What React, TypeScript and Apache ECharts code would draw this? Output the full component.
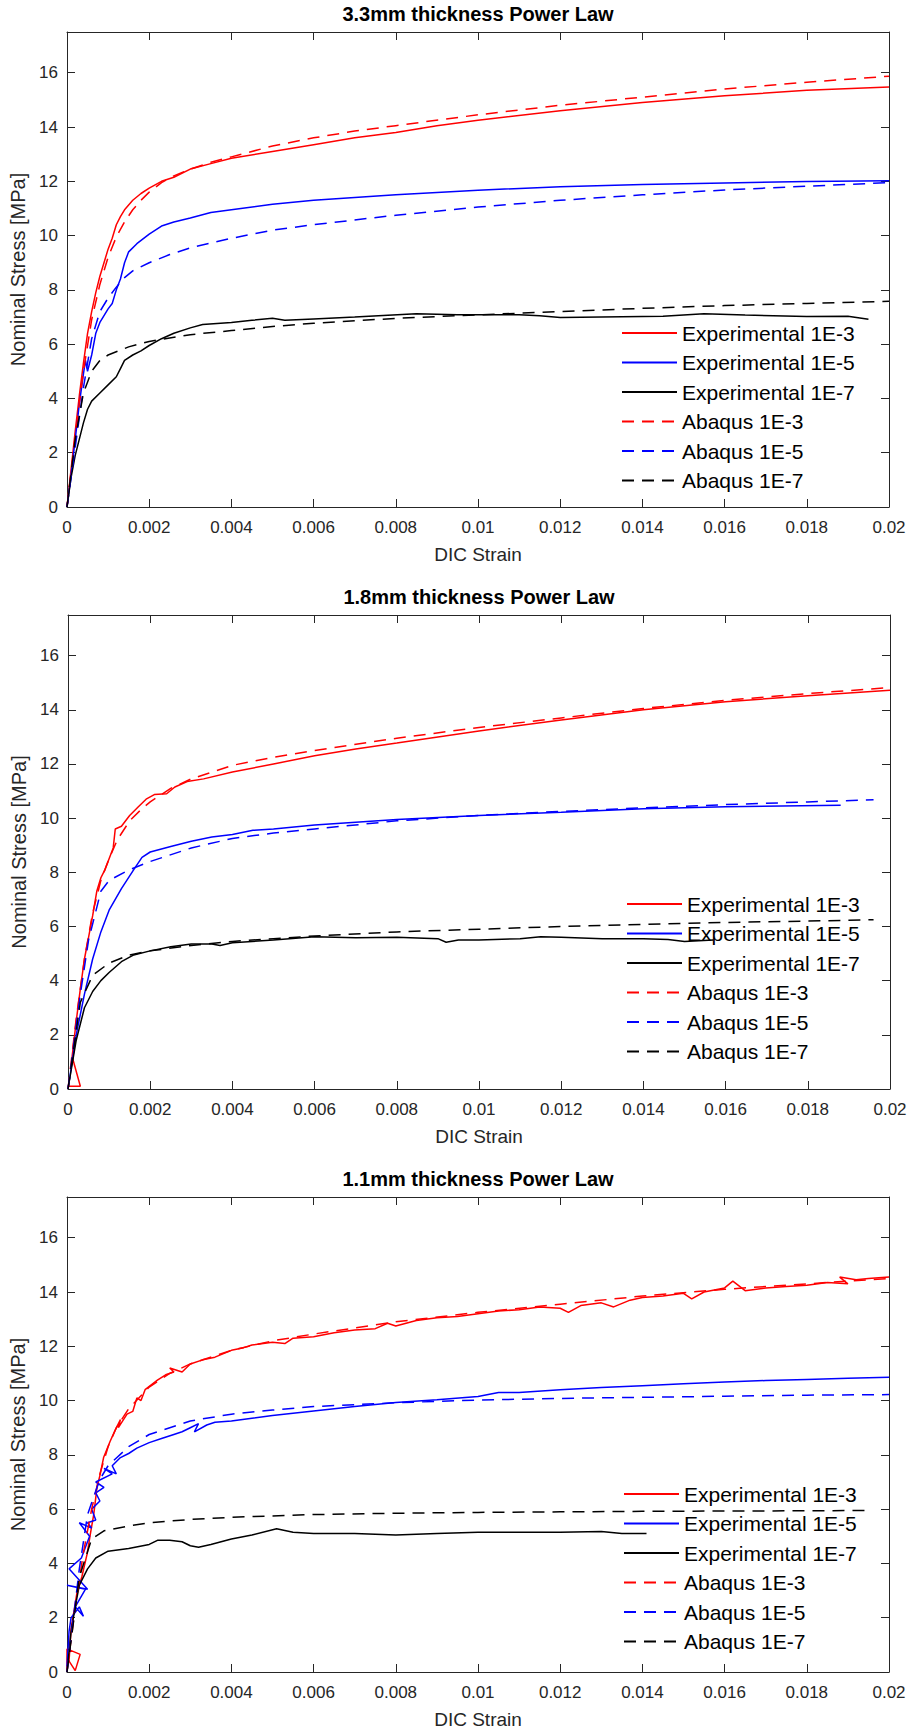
import React, { useEffect, useRef } from 'react';
import * as echarts from 'echarts';

const FONT = '"Liberation Sans", Arial, Helvetica, sans-serif';
const AX = '#262626';

const titles = ['3.3mm thickness Power Law', '1.8mm thickness Power Law', '1.1mm thickness Power Law'];
const xTickLabels = ['0', '0.002', '0.004', '0.006', '0.008', '0.01', '0.012', '0.014', '0.016', '0.018', '0.02'];
const yTickLabels = ['0', '2', '4', '6', '8', '10', '12', '14', '16'];
const seriesNames = ['Experimental 1E-3', 'Experimental 1E-5', 'Experimental 1E-7', 'Abaqus 1E-3', 'Abaqus 1E-5', 'Abaqus 1E-7'];
const seriesColors = ['#ff0000', '#0000ff', '#000000', '#ff0000', '#0000ff', '#000000'];
const seriesDashed = [false, false, false, true, true, true];

// ---------- 3.3 mm ----------
const exp3_33: number[][] = [[0,0],[0.0001,1.4],[0.0002,2.8],[0.0003,4.1],[0.0004,5.3],[0.0005,6.4],[0.0006,7.2],[0.0007,7.9],[0.0008,8.5],[0.0009,9.0],[0.001,9.5],[0.0011,9.9],[0.0012,10.4],[0.0013,10.7],[0.0014,10.95],[0.0016,11.3],[0.0018,11.55],[0.002,11.75],[0.0023,12.0],[0.0026,12.15],[0.003,12.45],[0.0035,12.65],[0.004,12.85],[0.005,13.1],[0.006,13.35],[0.007,13.6],[0.008,13.8],[0.009,14.05],[0.01,14.25],[0.012,14.6],[0.014,14.9],[0.016,15.15],[0.018,15.35],[0.02,15.47]];
const exp5_33: number[][] = [[0,0],[0.0001,1.2],[0.0002,2.5],[0.0003,3.8],[0.0004,4.9],[0.00045,5.4],[0.0005,5.0],[0.0006,5.6],[0.0007,6.4],[0.0008,6.8],[0.001,7.3],[0.0011,7.5],[0.0012,8.0],[0.0013,8.4],[0.0014,9.0],[0.0015,9.4],[0.0017,9.7],[0.002,10.05],[0.0023,10.35],[0.0026,10.5],[0.003,10.65],[0.0035,10.85],[0.004,10.95],[0.005,11.15],[0.006,11.3],[0.008,11.5],[0.01,11.67],[0.012,11.8],[0.014,11.88],[0.016,11.94],[0.018,11.99],[0.02,12.02]];
const exp7_33: number[][] = [[0,0],[0.0001,1.1],[0.0002,1.9],[0.0003,2.5],[0.0004,3.1],[0.0005,3.6],[0.0006,3.9],[0.0008,4.2],[0.001,4.5],[0.0012,4.8],[0.0013,5.1],[0.0014,5.4],[0.0016,5.6],[0.0018,5.75],[0.002,5.95],[0.0023,6.2],[0.0026,6.4],[0.003,6.6],[0.0033,6.72],[0.004,6.8],[0.0045,6.88],[0.005,6.95],[0.0053,6.88],[0.006,6.93],[0.007,7.0],[0.0085,7.12],[0.0095,7.08],[0.011,7.08],[0.0115,7.05],[0.012,6.98],[0.013,7.0],[0.0145,7.03],[0.0155,7.12],[0.0165,7.07],[0.018,7.02],[0.019,7.03],[0.0195,6.92]];
const aba3_33: number[][] = [[0,0],[0.0002,2.6],[0.0004,5.0],[0.0006,6.9],[0.0008,8.2],[0.001,9.2],[0.0012,9.95],[0.0014,10.5],[0.0016,10.95],[0.0018,11.3],[0.002,11.6],[0.0023,11.95],[0.0026,12.2],[0.003,12.45],[0.0035,12.7],[0.004,12.9],[0.005,13.3],[0.006,13.6],[0.007,13.85],[0.008,14.05],[0.01,14.45],[0.012,14.8],[0.014,15.1],[0.016,15.4],[0.018,15.65],[0.02,15.87]];
const aba5_33: number[][] = [[0,0],[0.0002,2.2],[0.0004,4.4],[0.0006,6.2],[0.0008,7.2],[0.001,7.7],[0.0012,8.1],[0.0014,8.45],[0.0016,8.7],[0.002,9.0],[0.0025,9.3],[0.003,9.55],[0.004,9.9],[0.005,10.2],[0.006,10.4],[0.008,10.75],[0.01,11.05],[0.012,11.3],[0.014,11.5],[0.016,11.68],[0.018,11.82],[0.02,11.95]];
const aba7_33: number[][] = [[0,0],[0.0002,2.5],[0.0004,4.2],[0.0006,5.0],[0.0008,5.4],[0.001,5.6],[0.0015,5.9],[0.002,6.1],[0.003,6.35],[0.004,6.5],[0.005,6.65],[0.006,6.77],[0.008,6.95],[0.01,7.08],[0.012,7.2],[0.014,7.32],[0.016,7.42],[0.018,7.5],[0.02,7.58]];

// ---------- 1.8 mm ----------
const exp3_18: number[][] = [[0,0.1],[0.0003,0.1],[0.0001,1.2],[0.0002,2.5],[0.0003,3.7],[0.0004,4.8],[0.0005,5.6],[0.0006,6.4],[0.0007,7.3],[0.0008,7.8],[0.0009,8.1],[0.001,8.5],[0.0011,8.9],[0.00115,9.6],[0.0013,9.7],[0.0015,10.1],[0.0017,10.4],[0.0019,10.7],[0.0021,10.87],[0.0024,10.9],[0.0026,11.15],[0.0029,11.35],[0.0033,11.45],[0.004,11.7],[0.005,12.0],[0.006,12.3],[0.007,12.55],[0.008,12.77],[0.009,13.0],[0.01,13.22],[0.012,13.62],[0.014,14.0],[0.016,14.3],[0.018,14.52],[0.02,14.72]];
const exp5_18: number[][] = [[0,0],[0.0002,2.0],[0.0004,3.5],[0.0006,4.8],[0.0008,5.8],[0.001,6.6],[0.0013,7.4],[0.0016,8.1],[0.0018,8.55],[0.002,8.75],[0.0025,8.95],[0.003,9.15],[0.0035,9.3],[0.004,9.4],[0.0045,9.55],[0.005,9.6],[0.006,9.75],[0.008,9.95],[0.01,10.1],[0.012,10.22],[0.014,10.35],[0.016,10.42],[0.0188,10.48]];
const exp7_18: number[][] = [[0,0],[0.0002,1.8],[0.0004,3.0],[0.0006,3.6],[0.0008,4.0],[0.001,4.3],[0.0013,4.7],[0.0016,4.95],[0.002,5.1],[0.0025,5.25],[0.003,5.35],[0.0035,5.35],[0.0037,5.3],[0.004,5.4],[0.005,5.5],[0.006,5.62],[0.007,5.58],[0.008,5.6],[0.009,5.55],[0.0092,5.42],[0.0095,5.5],[0.01,5.5],[0.011,5.55],[0.0115,5.62],[0.012,5.6],[0.013,5.55],[0.014,5.55],[0.0146,5.52],[0.015,5.45],[0.0157,5.5]];
const aba3_18: number[][] = [[0,0],[0.0002,2.6],[0.0004,4.8],[0.0006,6.5],[0.0008,7.7],[0.001,8.5],[0.0012,9.2],[0.0015,9.9],[0.0018,10.35],[0.002,10.6],[0.0025,11.1],[0.003,11.45],[0.004,11.95],[0.005,12.25],[0.006,12.5],[0.008,12.95],[0.01,13.35],[0.012,13.7],[0.014,14.05],[0.016,14.35],[0.018,14.6],[0.02,14.82]];
const aba5_18: number[][] = [[0,0],[0.0003,3.5],[0.0005,5.5],[0.0008,7.3],[0.001,7.7],[0.0015,8.1],[0.002,8.4],[0.003,8.9],[0.004,9.25],[0.005,9.45],[0.006,9.6],[0.008,9.9],[0.01,10.1],[0.012,10.25],[0.014,10.38],[0.016,10.5],[0.018,10.6],[0.0196,10.68]];
const aba7_18: number[][] = [[0,0],[0.0003,3.2],[0.0006,4.2],[0.001,4.65],[0.0015,4.95],[0.002,5.1],[0.003,5.3],[0.004,5.45],[0.005,5.55],[0.006,5.65],[0.008,5.8],[0.01,5.9],[0.012,6.0],[0.014,6.08],[0.016,6.15],[0.018,6.2],[0.0196,6.25]];

// ---------- 1.1 mm ----------
const exp3_11: number[][] = [[0,0],[0,0.85],[0.00032,0.65],[0.0002,0.05],[0.00005,0.4],[0.0001,1.6],[0.00024,2.9],[0.00036,3.5],[0.00049,4.35],[0.00057,5.1],[0.00065,5.8],[0.00073,6.8],[0.00081,7.3],[0.00089,7.9],[0.00105,8.5],[0.00117,8.9],[0.0013,9.3],[0.00125,9.0],[0.00146,9.5],[0.0016,9.6],[0.0017,10.1],[0.0018,10.0],[0.0019,10.4],[0.0022,10.75],[0.0024,10.95],[0.0026,11.05],[0.0025,11.2],[0.0028,11.05],[0.003,11.35],[0.0033,11.5],[0.0036,11.6],[0.004,11.85],[0.0043,11.95],[0.0045,12.05],[0.005,12.15],[0.0053,12.1],[0.0055,12.3],[0.006,12.35],[0.0065,12.5],[0.007,12.6],[0.0075,12.65],[0.0078,12.85],[0.008,12.75],[0.0085,12.95],[0.009,13.05],[0.0095,13.1],[0.01,13.2],[0.0105,13.3],[0.011,13.35],[0.0115,13.45],[0.012,13.4],[0.0122,13.25],[0.0125,13.5],[0.013,13.6],[0.0133,13.45],[0.0137,13.7],[0.014,13.8],[0.0145,13.85],[0.015,13.95],[0.0152,13.75],[0.0155,14.0],[0.016,14.15],[0.0162,14.4],[0.0165,14.05],[0.017,14.15],[0.0175,14.2],[0.018,14.25],[0.0185,14.35],[0.019,14.3],[0.0188,14.55],[0.0192,14.45],[0.0195,14.5],[0.02,14.55]];
const exp5_11: number[][] = [[0,0.2],[0.00005,1.5],[0.0001,2.0],[0.0003,2.4],[0.0004,2.05],[0.0002,2.4],[0.00045,3.05],[0,3.2],[0.0005,3.05],[0.00005,3.8],[0.00035,4.2],[0.0004,4.4],[0.00055,5.0],[0.0003,5.5],[0.0006,5.3],[0.0005,5.5],[0.0007,5.6],[0.0006,6.0],[0.0008,6.3],[0.0007,6.6],[0.0009,6.8],[0.0007,7.0],[0.0011,7.3],[0.0009,7.5],[0.0012,7.3],[0.0011,7.6],[0.0013,7.9],[0.0015,8.05],[0.0017,8.25],[0.002,8.45],[0.0023,8.6],[0.0026,8.75],[0.0028,8.85],[0.003,9.0],[0.0032,9.15],[0.0031,8.85],[0.0034,9.1],[0.0036,9.2],[0.004,9.25],[0.0045,9.35],[0.005,9.45],[0.006,9.62],[0.007,9.78],[0.008,9.93],[0.009,10.03],[0.01,10.15],[0.0105,10.3],[0.011,10.3],[0.012,10.4],[0.013,10.48],[0.014,10.55],[0.015,10.62],[0.016,10.68],[0.017,10.74],[0.018,10.78],[0.019,10.82],[0.02,10.86]];
const exp7_11: number[][] = [[0,0],[0.0001,1.5],[0.0002,2.4],[0.0003,3.2],[0.0005,3.8],[0.0007,4.2],[0.001,4.45],[0.0015,4.55],[0.002,4.7],[0.0022,4.85],[0.0025,4.85],[0.0028,4.8],[0.003,4.65],[0.0032,4.6],[0.0035,4.7],[0.004,4.9],[0.0045,5.05],[0.0051,5.28],[0.0055,5.15],[0.006,5.1],[0.007,5.1],[0.008,5.05],[0.009,5.1],[0.01,5.15],[0.011,5.15],[0.012,5.15],[0.013,5.18],[0.0135,5.1],[0.0141,5.1]];
const aba3_11: number[][] = [[0,0],[0.0002,2.4],[0.0004,4.4],[0.0006,6.0],[0.0008,7.3],[0.001,8.3],[0.0012,9.0],[0.0015,9.7],[0.002,10.5],[0.0025,11.0],[0.003,11.35],[0.004,11.85],[0.005,12.2],[0.006,12.45],[0.008,12.9],[0.01,13.25],[0.012,13.55],[0.014,13.85],[0.016,14.1],[0.018,14.3],[0.02,14.5]];
const aba5_11: number[][] = [[0,0],[0.0003,3.8],[0.0005,5.8],[0.0008,7.1],[0.001,7.6],[0.0015,8.3],[0.002,8.75],[0.003,9.25],[0.004,9.5],[0.005,9.65],[0.006,9.78],[0.008,9.92],[0.01,10.02],[0.012,10.08],[0.014,10.12],[0.016,10.16],[0.018,10.2],[0.02,10.22]];
const aba7_11: number[][] = [[0,0],[0.0003,3.5],[0.0006,4.9],[0.0009,5.2],[0.0015,5.38],[0.002,5.5],[0.003,5.62],[0.004,5.7],[0.006,5.8],[0.008,5.85],[0.01,5.88],[0.012,5.9],[0.014,5.92],[0.016,5.93],[0.018,5.94],[0.0195,5.95]];

const chartData = [
  [exp3_33, exp5_33, exp7_33, aba3_33, aba5_33, aba7_33],
  [exp3_18, exp5_18, exp7_18, aba3_18, aba5_18, aba7_18],
  [exp3_11, exp5_11, exp7_11, aba3_11, aba5_11, aba7_11],
];

const GRIDS = [
  { left: 67, top: 32, width: 822, height: 475 },
  { left: 68, top: 615, width: 822, height: 474 },
  { left: 67, top: 1197, width: 822, height: 475 },
];
const LEGENDS = [
  { left: 616, top: 317 },
  { left: 621, top: 888 },
  { left: 618, top: 1478 },
];

function buildOption() {
  const xAxis: any[] = [];
  const yAxis: any[] = [];
  const series: any[] = [];
  const legend: any[] = [];
  const graphic: any[] = [];
  const axisLine = { show: true, onZero: false, lineStyle: { color: AX, width: 1 } };
  const axisTick = { show: true, inside: true, length: 8, lineStyle: { color: AX, width: 1 } };
  GRIDS.forEach((g, i) => {
    xAxis.push({
      gridIndex: i, type: 'value', min: 0, max: 0.02, interval: 0.002, position: 'bottom',
      axisLine, axisTick, splitLine: { show: false },
      axisLabel: {
        margin: 12, color: AX, fontSize: 17, fontFamily: FONT,
        formatter: (v: number) => xTickLabels[Math.round(v / 0.002)] ?? '',
      },
      name: 'DIC Strain', nameLocation: 'middle', nameGap: 38,
      nameTextStyle: { fontSize: 19, color: AX, fontFamily: FONT },
    });
    xAxis.push({
      gridIndex: i, type: 'value', min: 0, max: 0.02, interval: 0.002, position: 'top',
      axisLine, axisTick, splitLine: { show: false }, axisLabel: { show: false },
    });
    yAxis.push({
      gridIndex: i, type: 'value', min: 0, max: 17.5, interval: 2, position: 'left',
      axisLine, axisTick, splitLine: { show: false },
      axisLabel: {
        margin: 9, color: AX, fontSize: 17, fontFamily: FONT, showMaxLabel: false,
        formatter: (v: number) => (v > 16.5 ? '' : yTickLabels[Math.round(v / 2)] ?? ''),
      },
      name: 'Nominal Stress [MPa]', nameLocation: 'middle', nameGap: 35,
      nameTextStyle: { fontSize: 20, color: AX, fontFamily: FONT },
    });
    yAxis.push({
      gridIndex: i, type: 'value', min: 0, max: 17.5, interval: 2, position: 'right',
      axisLine, axisTick, splitLine: { show: false }, axisLabel: { show: false },
    });
    chartData[i].forEach((d, k) => {
      series.push({
        type: 'line', name: seriesNames[k], xAxisIndex: 2 * i, yAxisIndex: 2 * i,
        data: d, symbol: 'none', silent: true,
        lineStyle: { color: seriesColors[k], width: 1.5, type: seriesDashed[k] ? [12, 8] : 'solid' },
        itemStyle: { color: seriesColors[k] },
      });
    });
    legend.push({
      orient: 'vertical', left: LEGENDS[i].left, top: LEGENDS[i].top,
      itemWidth: 55, itemHeight: 14, itemGap: 7.5, selectedMode: false,
      itemStyle: { opacity: 0, color: 'rgba(0,0,0,0)', borderWidth: 0 },
      textStyle: { fontSize: 21, color: '#000', fontFamily: FONT, lineHeight: 22 },
      data: seriesNames,
    });
    graphic.push({
      type: 'text', x: g.left + g.width / 2, y: g.top - 18,
      style: {
        text: titles[i], align: 'center', verticalAlign: 'middle',
        font: `bold 20px ${FONT}`, fill: '#000',
      },
    });
  });
  return {
    animation: false,
    backgroundColor: '#ffffff',
    grid: GRIDS.map((g) => ({ ...g, containLabel: false })),
    xAxis, yAxis, series, legend, graphic,
  };
}

export default function App() {
  const ref = useRef<HTMLDivElement>(null);
  useEffect(() => {
    if (!ref.current) return;
    const chart = echarts.init(ref.current, undefined, { renderer: 'svg' });
    chart.setOption(buildOption() as any);
    return () => chart.dispose();
  }, []);
  return (
    <div
      ref={ref}
      style={{ position: 'absolute', left: 0, top: 0, width: 911, height: 1731, background: '#fff' }}
    />
  );
}
